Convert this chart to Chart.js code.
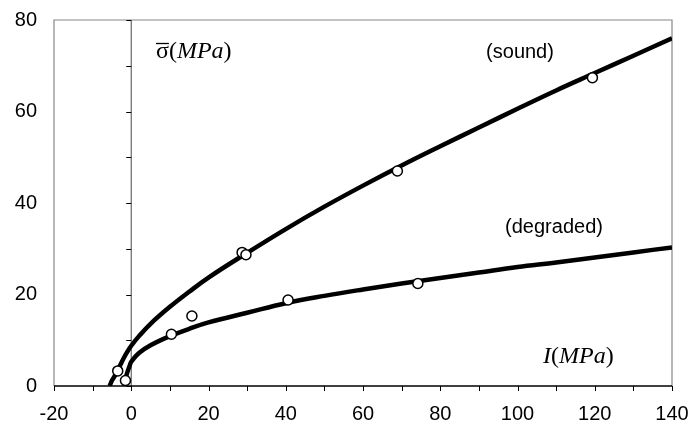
<!DOCTYPE html>
<html>
<head>
<meta charset="utf-8">
<script src="https://cdn.jsdelivr.net/npm/chart.js@4.4.1/dist/chart.umd.min.js"></script>
<style>
  html, body { margin: 0; padding: 0; background: #fff; }
  #wrap { width: 692px; height: 430px; }
</style>
</head>
<body>
<div id="wrap"><canvas id="myChart" width="692" height="430"></canvas></div>
<script>
// fitted curves
const sound_x = [-5.6, -5, -4, -3, -2, -1, 0, 2, 5, 10, 15, 20, 30, 40, 50, 60, 70, 80, 90, 100, 110, 120, 130, 140];
const sound_y = [0, 1.2, 2.6, 4.3, 6.0, 7.5, 8.8, 10.9, 13.6, 17.3, 20.6, 23.7, 29.1, 34.3, 39.2, 43.8, 48.2, 52.4, 56.5, 60.6, 64.6, 68.4, 72.2, 76.0];
const degraded_x = [-1.8, -1.2, -0.5, 0, 2, 5, 10, 15, 20, 30, 40, 50, 60, 70, 80, 90, 100, 110, 120, 130, 140];
const degraded_y = [0, 2.5, 4.2, 5.3, 7.2, 8.9, 10.9, 12.5, 13.9, 16.0, 18.1, 19.7, 21.1, 22.4, 23.6, 24.8, 26.0, 27.0, 28.1, 29.2, 30.3];

// measured points (open circles)
const sound_pts_x = [-3.5, 28.7, 29.7, 68.9, 119.4];
const sound_pts_y = [3.3, 29.2, 28.7, 47.0, 67.4];
const degraded_pts_x = [-1.5, 10.4, 15.7, 40.6, 74.2];
const degraded_pts_y = [1.2, 11.3, 15.3, 18.8, 22.4];

const x_ticks = [-20, 0, 20, 40, 60, 80, 100, 120, 140];
const y_ticks = [0, 20, 40, 60, 80];

function toPoints(xs, ys) {
  let out = [];
  for (let i = 0; i < xs.length; i++) {
    out.push({x: xs[i], y: ys[i]});
  }
  return out;
}

const SANS = "'Liberation Sans', Arial, sans-serif";
const SERIF = "'Liberation Serif', 'Times New Roman', serif";

// draws mixed upright / italic pieces one after another
function drawPieces(ctx, pieces, x, y, size) {
  for (let p of pieces) {
    ctx.font = (p[1] ? 'italic ' : '') + size + 'px ' + SERIF;
    ctx.fillText(p[0], x, y);
    x += ctx.measureText(p[0]).width;
  }
}

const framePlugin = {
  id: 'frame',
  beforeDatasetsDraw(chart) {
    const ctx = chart.ctx;
    const a = chart.chartArea;
    const xs = chart.scales.x;
    const ys = chart.scales.y;
    ctx.save();
    // grey box
    ctx.strokeStyle = '#888';
    ctx.lineWidth = 1.2;
    ctx.beginPath();
    ctx.moveTo(a.left, a.bottom);
    ctx.lineTo(a.left, a.top);
    ctx.lineTo(a.right, a.top);
    ctx.lineTo(a.right, a.bottom);
    ctx.stroke();
    // vertical axis at x = 0
    const x0 = xs.getPixelForValue(0);
    ctx.strokeStyle = '#666';
    ctx.beginPath();
    ctx.moveTo(x0, a.bottom);
    ctx.lineTo(x0, a.top);
    ctx.stroke();
    ctx.strokeStyle = '#000';
    ctx.lineWidth = 1;
    for (let v = 0; v <= 80; v += 10) {
      const py = Math.round(ys.getPixelForValue(v)) + 0.5;
      ctx.beginPath();
      ctx.moveTo(x0 - 5, py);
      ctx.lineTo(x0, py);
      ctx.stroke();
    }
    // bottom axis
    ctx.lineWidth = 1.3;
    ctx.beginPath();
    ctx.moveTo(a.left, a.bottom);
    ctx.lineTo(a.right, a.bottom);
    ctx.stroke();
    ctx.lineWidth = 1;
    for (let v = -20; v <= 140; v += 10) {
      const px = Math.round(xs.getPixelForValue(v)) + 0.5;
      ctx.beginPath();
      ctx.moveTo(px, a.bottom);
      ctx.lineTo(px, a.bottom + 5);
      ctx.stroke();
    }
    ctx.restore();
  },
  afterDraw(chart) {
    const ctx = chart.ctx;
    ctx.save();
    ctx.fillStyle = '#000';
    ctx.textBaseline = 'alphabetic';
    ctx.textAlign = 'left';

    // sigma bar (MPa)
    ctx.font = '24px ' + SERIF;
    const sw = ctx.measureText('σ').width;
    ctx.lineWidth = 1.3;
    ctx.strokeStyle = '#000';
    ctx.beginPath();
    ctx.moveTo(156, 43.5);
    ctx.lineTo(156 + sw, 43.5);
    ctx.stroke();
    drawPieces(ctx, [['σ', false], ['(', false], ['MPa', true], [')', false]], 156, 58, 24);

    // I (MPa)
    drawPieces(ctx, [['I', true], ['(', false], ['MPa', true], [')', false]], 543, 363, 24);

    ctx.font = '20px ' + SANS;
    ctx.textAlign = 'center';
    ctx.textBaseline = 'middle';
    ctx.fillText('(sound)', 520, 52);
    ctx.fillText('(degraded)', 554, 227);
    ctx.restore();
  }
};

const data = {
  datasets: [
    {
      label: 'sound',
      data: toPoints(sound_x, sound_y),
      showLine: true,
      borderColor: '#000',
      borderWidth: 4.5,
      pointRadius: 0,
      tension: 0.4,
      order: 3
    },
    {
      label: 'degraded',
      data: toPoints(degraded_x, degraded_y),
      showLine: true,
      borderColor: '#000',
      borderWidth: 4.5,
      pointRadius: 0,
      tension: 0.4,
      order: 3
    },
    {
      label: 'sound points',
      data: toPoints(sound_pts_x, sound_pts_y),
      showLine: false,
      pointRadius: 5,
      pointBorderWidth: 1.5,
      pointBorderColor: '#000',
      pointBackgroundColor: '#fff',
      order: 1
    },
    {
      label: 'degraded points',
      data: toPoints(degraded_pts_x, degraded_pts_y),
      showLine: false,
      pointRadius: 5,
      pointBorderWidth: 1.5,
      pointBorderColor: '#000',
      pointBackgroundColor: '#fff',
      order: 1
    }
  ]
};

const config = {
  type: 'scatter',
  data: data,
  options: {
    responsive: false,
    animation: false,
    events: [],
    layout: { padding: { top: 20, right: 20, left: 0, bottom: 0 } },
    plugins: {
      legend: { display: false },
      title: { display: false },
      tooltip: { enabled: false }
    },
    scales: {
      x: {
        type: 'linear',
        min: -20,
        max: 140,
        afterBuildTicks: (scale) => { scale.ticks = x_ticks.map(v => ({value: v})); },
        afterFit: (scale) => { scale.height = 44; scale.paddingLeft = 0; scale.paddingRight = 0; },
        grid: { display: false, drawTicks: false },
        border: { display: false },
        ticks: { color: '#000', padding: 16, font: { size: 20, family: SANS }, maxRotation: 0 }
      },
      y: {
        type: 'linear',
        min: 0,
        max: 80,
        afterBuildTicks: (scale) => { scale.ticks = y_ticks.map(v => ({value: v})); },
        afterFit: (scale) => { scale.width = 54; scale.paddingTop = 0; scale.paddingBottom = 0; },
        grid: { display: false, drawTicks: false },
        border: { display: false },
        ticks: { color: '#000', padding: 17, font: { size: 20, family: SANS } }
      }
    }
  },
  plugins: [framePlugin]
};

const myChart = new Chart(document.getElementById('myChart'), config);
</script>
</body>
</html>
